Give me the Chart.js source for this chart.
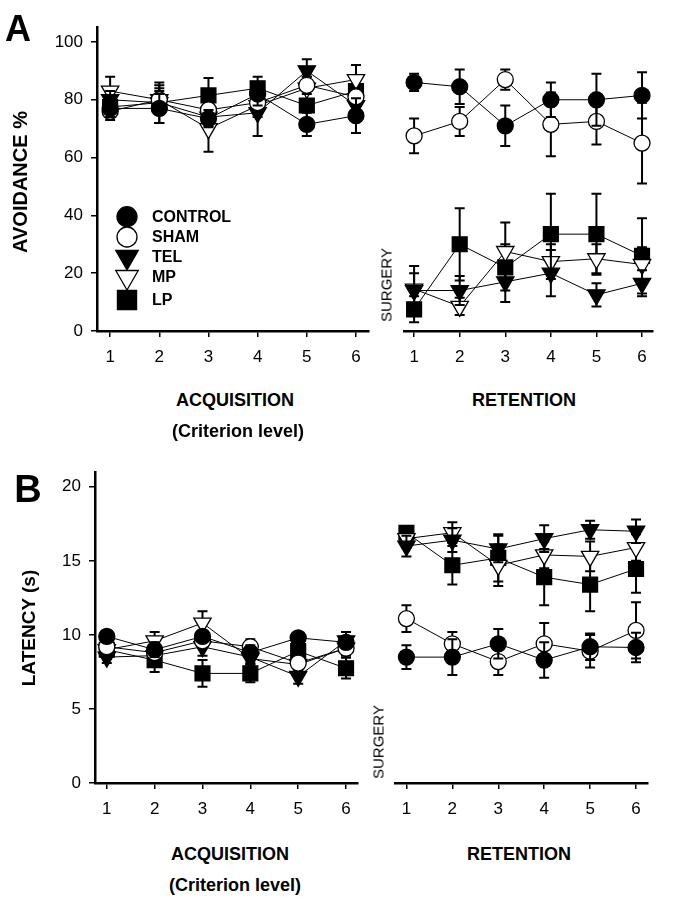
<!DOCTYPE html>
<html>
<head>
<meta charset="utf-8">
<script src="https://cdn.jsdelivr.net/npm/chart.js@4.4.0/dist/chart.umd.min.js"></script>
<style>
body { margin: 0; background: #fff; width: 673px; height: 900px; position: relative; overflow: hidden; font-family: "Liberation Sans", Arial, sans-serif; }
canvas { position: absolute; }
.t { position: absolute; white-space: nowrap; color: #000; line-height: 1; transform: translate(-50%, -50%); }
.b { font-weight: bold; }
.rot { transform: translate(-50%, -50%) rotate(-90deg); }
</style>
</head>
<body>
<canvas id="aAcq" width="381" height="376" style="left:0;top:0"></canvas>
<canvas id="aRet" width="273" height="376" style="left:392px;top:0"></canvas>
<canvas id="bAcq" width="370" height="388" style="left:0;top:440px"></canvas>
<canvas id="bRet" width="277" height="388" style="left:383px;top:440px"></canvas>

<div class="t b" style="left:18px;top:29px;font-size:36px">A</div>
<div class="t b rot" style="left:20px;top:182px;font-size:20px">AVOIDANCE %</div>
<div class="t b" style="left:235px;top:400px;font-size:18px">ACQUISITION</div>
<div class="t b" style="left:238px;top:431px;font-size:18px">(Criterion level)</div>
<div class="t b" style="left:524px;top:400px;font-size:18px">RETENTION</div>
<div class="t rot" style="left:386px;top:285px;font-size:15px">SURGERY</div>

<div class="t b" style="left:28px;top:489px;font-size:38px">B</div>
<div class="t b rot" style="left:28px;top:628px;font-size:19px">LATENCY (s)</div>
<div class="t b" style="left:230px;top:854px;font-size:18px">ACQUISITION</div>
<div class="t b" style="left:235px;top:885px;font-size:18px">(Criterion level)</div>
<div class="t b" style="left:519px;top:854px;font-size:18px">RETENTION</div>
<div class="t rot" style="left:378px;top:742px;font-size:15px">SURGERY</div>

<script>
document.addEventListener("DOMContentLoaded", function() {
    'use strict';

    var sessions = [1, 2, 3, 4, 5, 6];
    var groups = ['CONTROL', 'SHAM', 'TEL', 'MP', 'LP'];

    // A: avoidance %, acquisition
    var avoidAcqControl = [77, 77, 73.5, 82, 71.5, 74.5];
    var avoidAcqSham    = [76, 80, 76.5, 79, 85, 81];
    var avoidAcqTel     = [80, 79, 74, 75.5, 90, 78];
    var avoidAcqMp      = [83, 80, 70, 78, 84, 87];
    var avoidAcqLp      = [77.5, 79, 81.5, 84, 78, 83];
    var avoidAcqControlErr = [3, 5, 3, 4, 4, 6];
    var avoidAcqShamErr    = [3, 4, 4, 4, 3, 3];
    var avoidAcqTelErr     = [3, 4, 3, 8, 4, 3];
    var avoidAcqMpErr      = [5, 5, 8, 4, 4, 5];
    var avoidAcqLpErr      = [3, 7, 6, 4, 5, 5];

    // A: avoidance %, retention
    var avoidRetControl = [86, 84.5, 71, 80, 80, 81.5];
    var avoidRetSham    = [67.5, 72.5, 87, 71.5, 72.5, 65];
    var avoidRetTel     = [14, 14, 17, 20, 12.5, 16.5];
    var avoidRetMp      = [14.5, 8.5, 27.5, 24, 25, 23];
    var avoidRetLp      = [7.5, 30, 22, 33.5, 33.5, 26];
    var avoidRetControlErr = [3, 6, 7, 6, 9, 8];
    var avoidRetShamErr    = [6, 5, 3.5, 11, 8, 14];
    var avoidRetTelErr     = [6, 5, 7, 8, 4, 4.5];
    var avoidRetMpErr      = [8, 3, 10, 6, 5, 6];
    var avoidRetLpErr      = [4.5, 12.5, 8, 14, 14, 13];

    // B: latency (s), acquisition
    var latAcqControl = [9.9, 9.0, 9.9, 8.8, 9.8, 9.5];
    var latAcqSham    = [9.2, 8.8, 9.6, 9.2, 8.1, 9.1];
    var latAcqTel     = [8.5, 8.6, 9.2, 8.5, 7.2, 9.6];
    var latAcqMp      = [9.0, 9.6, 10.8, 8.4, 8.0, 9.1];
    var latAcqLp      = [9.0, 8.3, 7.4, 7.4, 8.9, 7.75];
    var latAcqControlErr = [0.4, 0.5, 0.4, 0.5, 0.4, 0.4];
    var latAcqShamErr    = [0.4, 0.6, 0.5, 0.5, 0.3, 0.5];
    var latAcqTelErr     = [0.4, 0.5, 0.6, 0.4, 0.5, 0.6];
    var latAcqMpErr      = [0.4, 0.6, 0.8, 0.4, 0.4, 0.4];
    var latAcqLpErr      = [0.5, 0.8, 0.9, 0.6, 0.6, 0.7];

    // B: latency (s), retention
    var latRetControl = [8.5, 8.5, 9.4, 8.3, 9.2, 9.15];
    var latRetSham    = [11.1, 9.4, 8.2, 9.4, 8.9, 10.3];
    var latRetTel     = [16.0, 16.4, 15.8, 16.5, 17.1, 17.0];
    var latRetMp      = [16.5, 16.9, 14.7, 15.4, 15.3, 15.9];
    var latRetLp      = [16.9, 14.7, 15.2, 13.9, 13.4, 14.45];
    var latRetControlErr = [0.8, 1.2, 1.0, 1.2, 0.9, 1.0];
    var latRetShamErr    = [0.9, 0.8, 0.9, 1.4, 1.1, 1.9];
    var latRetTelErr     = [0.7, 0.8, 0.9, 0.9, 0.6, 0.8];
    var latRetMpErr      = [0.6, 0.7, 1.4, 0.9, 1.0, 0.9];
    var latRetLpErr      = [0.4, 1.3, 1.6, 1.9, 1.8, 1.6];

    var FONT = '"Liberation Sans", Arial, sans-serif';

    // marker look per group
    var markers = [
        { style: 'circle',   fill: '#000', r: 8,    rot: 0,   lr: 10 },
        { style: 'circle',   fill: '#fff', r: 8,    rot: 0,   lr: 10 },
        { style: 'triangle', fill: '#000', r: 10,   rot: 180, lr: 13 },
        { style: 'triangle', fill: '#fff', r: 10,   rot: 180, lr: 13 },
        { style: 'rect',     fill: '#000', r: 10.5, rot: 0,   lr: 13.5 }
    ];

    var errorBars = {
        id: 'errorBars',
        beforeDatasetDraw: function(chart, args) {
            var ds = chart.data.datasets[args.index];
            var yScale = chart.scales.y;
            var ctx = chart.ctx;
            ctx.save();
            ctx.strokeStyle = '#000';
            ctx.lineWidth = 2;
            args.meta.data.forEach(function(pt, i) {
                var v = ds.data[i].y, e = ds.errors[i];
                var top = yScale.getPixelForValue(v + e);
                var bot = yScale.getPixelForValue(v - e);
                ctx.beginPath();
                ctx.moveTo(pt.x, top); ctx.lineTo(pt.x, bot);
                ctx.moveTo(pt.x - 5, top); ctx.lineTo(pt.x + 5, top);
                ctx.moveTo(pt.x - 5, bot); ctx.lineTo(pt.x + 5, bot);
                ctx.stroke();
            });
            ctx.restore();
        }
    };

    var legendRows = [216.7, 237, 257, 277, 300];
    var insideLegend = {
        id: 'insideLegend',
        afterDatasetsDraw: function(chart) {
            var ctx = chart.ctx;
            ctx.save();
            chart.data.datasets.forEach(function(ds, i) {
                var m = markers[i];
                ctx.fillStyle = m.fill;
                ctx.strokeStyle = '#000';
                ctx.lineWidth = 1.3;
                Chart.helpers.drawPoint(ctx, { pointStyle: m.style, rotation: m.rot, radius: m.lr, borderWidth: 1.3 }, 127, legendRows[i]);
                ctx.fillStyle = '#000';
                ctx.font = 'bold 16px ' + FONT;
                ctx.textBaseline = 'middle';
                ctx.textAlign = 'left';
                ctx.fillText(ds.label, 152, legendRows[i] + 1);
            });
            ctx.restore();
        }
    };

    function build_datasets(values, errors) {
        return groups.map(function(name, g) {
            var m = markers[g];
            return {
                label: name,
                data: sessions.map(function(s, i) { return { x: s, y: values[g][i] }; }),
                errors: errors[g],
                borderColor: '#000',
                borderWidth: 1,
                pointStyle: m.style,
                pointRotation: m.rot,
                pointRadius: m.r,
                pointHoverRadius: m.r,
                pointBackgroundColor: m.fill,
                pointBorderColor: '#000',
                pointBorderWidth: 1.3,
                clip: false
            };
        });
    }

    function draw_chart(id, cfg) {
        var $canvas = document.getElementById(id);
        var plugins = [errorBars];
        if (cfg.legend) {
            plugins.push(insideLegend);
        }
        new Chart($canvas.getContext('2d'), {
            type: 'line',
            data: { datasets: build_datasets(cfg.values, cfg.errors) },
            plugins: plugins,
            options: {
                responsive: false,
                animation: false,
                events: [],
                layout: { padding: { top: cfg.padTop, left: 0, right: 0, bottom: 0 } },
                plugins: { legend: { display: false }, tooltip: { enabled: false } },
                scales: {
                    x: {
                        type: 'linear',
                        min: cfg.xMin,
                        max: cfg.xMax,
                        afterBuildTicks: function(scale) {
                            scale.ticks = sessions.map(function(s) { return { value: s }; });
                        },
                        afterFit: function(scale) { scale.height = 45; },
                        ticks: { color: '#000', font: { family: FONT, size: 17 }, padding: 10, maxRotation: 0 },
                        grid: { display: true, drawOnChartArea: false, drawTicks: true, tickLength: 6, color: '#000', lineWidth: 1.5 },
                        border: { display: true, color: '#000', width: 2.5 }
                    },
                    y: {
                        display: cfg.showY,
                        min: 0,
                        max: cfg.yMax,
                        afterBuildTicks: function(scale) {
                            var ticks = [];
                            for (var v = 0; v <= cfg.yMax; v += cfg.yStep) {
                                ticks.push({ value: v });
                            }
                            scale.ticks = ticks;
                        },
                        afterFit: function(scale) { scale.width = cfg.yWidth; },
                        ticks: { color: '#000', font: { family: FONT, size: 17 }, padding: 8 },
                        grid: { display: true, drawOnChartArea: false, drawTicks: true, tickLength: 6, color: '#000', lineWidth: 1.5 },
                        border: { display: true, color: '#000', width: 2.5 }
                    }
                }
            }
        });
    }

    draw_chart('aAcq', {
        values: [avoidAcqControl, avoidAcqSham, avoidAcqTel, avoidAcqMp, avoidAcqLp],
        errors: [avoidAcqControlErr, avoidAcqShamErr, avoidAcqTelErr, avoidAcqMpErr, avoidAcqLpErr],
        xMin: 0.733, xMax: 6.269, yMax: 105, yStep: 20, showY: true, yWidth: 97, padTop: 27.5, legend: true
    });
    draw_chart('aRet', {
        values: [avoidRetControl, avoidRetSham, avoidRetTel, avoidRetMp, avoidRetLp],
        errors: [avoidRetControlErr, avoidRetShamErr, avoidRetTelErr, avoidRetMpErr, avoidRetLpErr],
        xMin: 0.774, xMax: 6.245, yMax: 105, yStep: 20, showY: false, yWidth: 0, padTop: 27.5, legend: false
    });
    draw_chart('bAcq', {
        values: [latAcqControl, latAcqSham, latAcqTel, latAcqMp, latAcqLp],
        errors: [latAcqControlErr, latAcqShamErr, latAcqTelErr, latAcqMpErr, latAcqLpErr],
        xMin: 0.754, xMax: 6.254, yMax: 21, yStep: 5, showY: true, yWidth: 95, padTop: 32, legend: false
    });
    draw_chart('bRet', {
        values: [latRetControl, latRetSham, latRetTel, latRetMp, latRetLp],
        errors: [latRetControlErr, latRetShamErr, latRetTelErr, latRetMpErr, latRetLpErr],
        xMin: 0.747, xMax: 6.265, yMax: 21, yStep: 5, showY: false, yWidth: 0, padTop: 32, legend: false
    });
});
</script>
</body>
</html>
